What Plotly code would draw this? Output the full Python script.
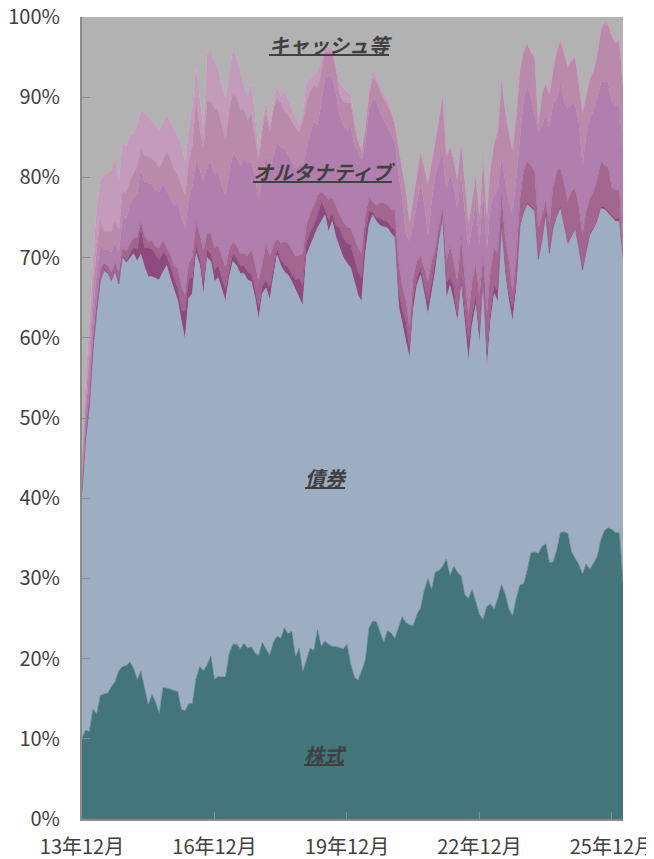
import plotly.graph_objects as go

# monthly observations 2013-12 .. 2026-03 (148 points)
months = list(range(148))
tick_pos = [0, 36, 72, 108, 144]
tick_labels = ["13年12月", "16年12月", "19年12月", "22年12月", "25年12月"]

equity = [10.1,11.1,10.9,13.7,13.1,15.4,15.6,15.7,16.5,17.1,
18.5,19.0,19.1,19.6,18.8,17.4,18.4,16.1,14.2,15.5,
14.6,13.1,16.4,16.3,16.2,16.0,15.9,13.7,13.5,14.4,
14.4,17.5,19.0,18.5,19.2,20.3,17.4,17.8,17.7,17.7,
20.6,21.8,21.8,21.2,21.9,21.3,21.5,20.7,20.4,22.0,
21.2,20.4,22.0,22.8,22.5,23.8,23.1,23.4,20.2,21.3,
18.4,19.8,21.3,21.0,23.6,21.5,22.2,21.8,21.5,21.5,
21.3,21.2,21.8,19.3,17.7,17.3,18.5,19.8,23.8,24.7,
24.6,23.3,22.0,23.5,23.2,22.5,24.0,25.2,24.5,24.2,
24.1,25.5,26.3,28.5,30.0,28.6,30.8,31.0,31.5,32.4,
30.3,31.5,30.8,30.3,28.0,27.5,28.6,27.0,25.5,24.9,
26.5,26.8,26.2,27.5,29.2,28.0,26.2,25.3,27.5,29.2,
29.3,31.0,33.2,33.3,33.1,34.0,34.3,32.0,32.0,33.5,
35.7,35.8,35.6,33.3,32.4,31.7,30.5,31.8,31.1,32.0,
32.7,34.8,36.0,36.3,36.1,35.7,35.7,29.3]

bonds = [30.4,35.9,40.1,44.3,49.9,51.6,52.7,52.3,50.5,51.1,
48.0,51.0,50.2,50.3,51.7,52.1,52.0,52.7,53.4,52.1,
52.8,54.1,51.8,52.7,51.2,50.0,48.7,48.3,46.2,50.5,
51.1,53.0,50.0,46.8,50.8,49.2,49.6,49.7,48.3,46.8,
46.9,47.7,47.2,46.8,46.1,45.9,45.5,44.3,41.8,43.5,
45.0,44.3,45.5,47.5,46.5,44.4,44.7,43.6,45.8,43.7,
45.6,50.5,50.2,51.5,50.1,53.0,53.1,51.4,53.0,51.0,
49.9,48.8,47.5,49.4,49.3,48.0,46.0,50.7,50.2,50.6,
49.9,50.7,51.8,50.2,49.8,50.0,40.0,36.3,35.0,33.2,
39.4,41.0,41.5,37.0,32.8,36.9,37.5,41.0,43.5,32.5,
36.2,33.0,31.2,36.2,34.0,29.5,32.9,37.1,33.6,41.6,
29.5,35.2,39.3,37.0,44.5,40.0,38.3,36.7,38.5,44.5,
46.2,45.6,43.0,42.4,36.4,38.0,41.0,38.3,41.5,41.5,
40.4,38.2,36.0,39.2,41.1,39.3,37.7,38.7,41.7,41.5,
41.8,41.3,40.0,39.2,38.9,38.8,38.8,40.7]

alt_1 = [0.3,0.5,0.5,0.5,0.3,0.2,0.2,0.2,0.2,0.2,
0.2,0.3,0.3,0.5,0.8,1.5,3.3,2.5,3.6,3.5,
3.0,2.5,2.5,1.3,1.5,1.5,1.6,1.5,3.6,2.5,
2.0,1.0,1.0,1.5,1.0,1.0,1.5,1.5,1.5,1.5,
1.0,1.0,1.0,1.0,1.0,1.0,1.0,1.2,1.5,1.0,
1.0,1.5,1.0,0.8,0.8,1.0,1.0,1.0,1.2,2.4,
2.5,1.7,1.7,1.5,1.6,2.5,0.8,1.5,1.0,1.5,
2.5,2.5,2.5,2.9,3.0,2.9,3.0,2.7,1.8,0.4,
0.5,0.9,0.8,0.8,0.8,1.0,2.0,2.0,2.5,1.3,
1.5,1.0,0.9,1.2,1.7,1.5,1.6,0.5,0.3,2.1,
1.0,2.0,0.8,1.0,1.5,2.5,1.5,1.0,1.5,1.0,
2.0,1.5,1.0,1.5,0.5,1.0,1.0,1.7,1.0,0.3,
0.3,0.3,0.3,0.3,0.3,0.3,0.3,0.3,0.3,0.3,
0.3,0.3,0.3,0.3,0.3,0.3,0.3,0.3,0.3,0.3,
0.3,0.3,0.3,0.3,0.3,0.3,0.3,0.1]

alt_2 = [0.5,1.0,1.5,1.5,1.5,1.5,0.8,0.8,1.0,1.0,
1.5,1.0,1.2,1.2,1.2,1.5,0.8,1.5,0.8,1.0,
1.0,1.5,1.5,1.0,1.5,1.5,2.5,3.0,2.0,2.0,
2.5,3.0,3.0,4.0,2.0,2.5,2.7,2.5,2.5,2.7,
2.5,1.5,1.5,1.5,1.5,2.0,3.0,3.0,3.3,3.0,
4.4,4.0,3.0,1.3,2.0,2.8,3.0,3.0,3.0,2.9,
4.0,2.1,2.3,2.5,2.5,1.2,1.7,2.5,2.0,2.5,
1.6,2.0,2.0,2.1,2.5,3.0,3.0,2.1,1.7,1.3,
1.5,2.0,2.2,2.1,2.2,2.5,3.5,3.0,2.7,2.5,
2.5,2.0,1.6,2.0,2.5,2.5,1.3,1.5,0.8,2.5,
4.0,3.0,4.2,5.0,4.5,3.3,4.0,4.0,4.5,2.8,
5.0,5.0,4.7,4.5,3.6,3.5,4.0,2.0,3.0,3.2,
5.0,5.1,5.0,4.7,3.9,3.0,1.4,3.5,5.0,5.5,
4.7,5.0,5.1,5.5,4.8,5.0,4.3,5.0,4.3,4.5,
5.0,5.6,5.2,5.5,3.3,3.7,3.7,0.3]

alt_3 = [1.5,2.5,3.0,3.5,3.5,3.0,1.7,2.0,2.5,2.5,
2.5,3.5,4.0,5.0,5.0,5.5,6.6,6.5,7.3,7.0,
7.0,7.0,7.0,7.1,7.0,7.5,8.3,8.5,8.4,8.0,
9.0,7.9,8.0,8.7,8.5,9.0,9.1,9.0,9.0,9.1,
9.5,11.0,11.0,11.0,12.0,11.5,11.0,11.0,10.0,10.5,
11.2,10.5,11.0,12.1,12.0,11.6,11.0,11.0,11.0,11.2,
11.0,9.5,10.0,10.5,8.7,11.0,14.6,15.5,15.0,14.0,
12.5,12.0,12.0,12.8,11.5,12.0,11.5,9.2,11.0,12.9,
13.0,11.3,10.5,9.9,9.5,8.5,11.0,11.0,8.3,10.8,
6.5,7.0,9.2,8.0,5.8,7.5,9.1,8.0,6.7,9.0,
9.0,9.5,9.0,8.0,7.5,8.4,7.0,8.0,6.5,8.0,
8.0,8.0,6.6,8.0,5.0,7.0,7.5,9.6,10.0,8.0,
9.0,9.5,8.5,7.1,12.0,11.0,11.0,12.0,10.5,9.0,
10.8,10.0,11.6,11.0,10.5,10.5,8.7,9.5,10.0,10.0,
10.0,9.9,10.5,10.5,10.8,10.5,10.5,13.3]

alt_4 = [1.0,1.5,2.0,2.5,3.0,3.0,2.2,2.2,2.5,2.8,
2.5,3.5,3.3,2.9,3.0,3.5,2.5,3.5,3.3,3.3,
3.5,3.0,3.0,4.8,5.0,4.5,3.3,4.0,4.1,4.5,
5.0,7.5,5.0,4.0,8.0,7.5,8.3,8.0,7.5,6.7,
8.0,7.5,7.5,7.0,6.0,5.5,6.0,5.0,5.0,6.0,
5.4,5.0,6.0,5.4,5.5,4.6,5.0,5.0,5.0,4.2,
5.5,5.8,5.3,4.5,4.6,4.0,3.3,3.0,3.0,3.0,
2.5,3.0,3.5,2.8,2.5,1.2,1.1,1.5,2.0,2.5,
2.5,2.5,2.5,2.6,2.5,2.0,3.0,3.5,5.3,2.2,
3.3,3.8,3.5,4.5,6.3,4.7,4.3,5.2,7.2,4.0,
3.2,3.2,3.6,3.7,4.2,3.0,3.2,2.9,3.4,4.2,
4.0,4.7,6.4,7.2,9.3,8.7,8.4,8.0,7.7,8.1,
5.9,5.1,5.5,7.2,0.9,4.1,3.6,4.1,3.9,5.9,
5.1,5.9,5.1,5.2,5.8,4.9,6.4,4.9,4.8,4.9,
5.4,6.4,7.2,7.1,8.1,7.7,8.0,7.6]

alt_5 = [1.5,2.5,4.0,4.0,5.0,5.0,7.1,7.5,7.8,7.8,
6.3,6.2,5.9,5.8,5.0,5.0,4.8,5.2,5.0,4.6,
4.6,4.8,4.6,4.6,4.6,5.0,5.0,5.0,4.2,4.1,
5.0,4.0,4.0,2.5,6.0,6.3,5.8,5.1,5.0,5.4,
4.5,5.5,5.0,4.7,3.0,2.8,3.9,2.8,1.2,1.0,
1.3,0.8,0.5,1.8,0.7,2.7,2.0,1.7,1.6,0.8,
1.0,2.5,1.5,1.3,2.1,1.6,0.8,0.6,0.6,0.5,
1.6,1.7,1.4,1.0,1.0,0.5,0.5,0.5,0.5,1.0,
0.5,0.8,0.7,0.8,0.5,0.5,0.5,0.5,0.5,0.3,
0.2,0.2,0.4,0.3,0.4,0.3,0.3,0.3,0.3,0.3,
0.3,0.3,0.3,0.3,0.3,0.3,0.3,0.3,0.3,0.3,
0.3,0.3,0.3,0.3,0.3,0.3,0.3,0.3,0.3,0.3,
0.3,0.3,0.3,0.3,0.3,0.3,0.3,0.3,0.3,0.3,
0.3,0.3,0.3,0.3,0.3,0.3,0.3,0.3,0.3,0.3,
0.3,0.3,0.3,0.3,0.3,0.3,0.3,0.2]

cash = [54.7,45.0,38.0,30.0,23.7,20.3,19.7,19.3,19.0,17.5,
20.5,15.5,16.0,14.7,14.5,13.5,11.6,12.0,12.4,13.0,
13.5,14.0,13.2,12.2,13.0,14.0,14.7,16.0,18.0,14.0,
11.0,6.1,10.0,14.0,4.5,4.2,5.6,6.4,8.5,10.1,
7.0,4.0,5.0,6.8,8.5,10.0,8.1,12.0,16.8,13.0,
10.5,13.5,11.0,8.3,10.0,9.1,10.2,11.3,12.2,13.5,
12.0,8.1,7.7,7.2,6.8,5.2,3.5,3.7,3.9,6.0,
8.1,8.8,9.3,9.7,12.5,15.1,16.4,13.5,9.0,6.6,
7.5,8.5,9.5,10.1,11.5,13.0,16.0,18.5,21.2,25.5,
22.5,19.5,16.6,18.5,20.5,18.0,15.1,12.5,9.7,17.2,
16.0,17.5,20.1,15.5,20.0,25.5,22.5,19.7,24.7,17.2,
24.7,18.5,15.5,14.0,7.6,11.5,14.3,16.4,12.0,6.4,
4.0,3.1,4.2,4.7,13.1,9.3,8.1,9.5,6.5,4.0,
2.7,4.5,6.0,5.2,4.8,8.0,11.8,9.5,7.5,6.5,
4.5,1.4,0.5,0.8,2.2,3.0,2.7,8.5]

series = [
    ("株式", equity, "#44757A"),
    ("債券", bonds, "#9DADC2"),
    ("オルタナティブ1", alt_1, "#8D4A7E"),
    ("オルタナティブ2", alt_2, "#A2668F"),
    ("オルタナティブ3", alt_3, "#B07FAE"),
    ("オルタナティブ4", alt_4, "#B98AAA"),
    ("オルタナティブ5", alt_5, "#C39CBC"),
    ("キャッシュ等", cash, "#B2B2B2"),
]

fig = go.Figure()
for name, vals, col in series:
    fig.add_trace(go.Scatter(
        x=months, y=vals, name=name, mode="lines",
        stackgroup="one", line=dict(width=0.6, color=col),
        fillcolor=col, showlegend=False, hoverinfo="skip"))

FONT = "Noto Sans CJK JP"
axis_col = "#8C8C8C"
text_col = "#404040"

# page body has an 8px margin, so the figure is sized to fit the 654x859 window
fig.update_layout(
    width=646, height=851,
    margin=dict(l=74, r=31, t=9, b=40),
    paper_bgcolor="white", plot_bgcolor="white",
    font=dict(family=FONT, size=20, color=text_col),
    xaxis=dict(range=[0, 147], tickmode="array", tickvals=tick_pos,
               ticktext=tick_labels, ticks="inside", ticklen=7,
               tickcolor=axis_col, showline=True, linecolor=axis_col,
               linewidth=2, showgrid=False, zeroline=False,
               automargin=False, ticklabeloverflow="allow",
               ticklabelstandoff=9,
               tickfont=dict(family=FONT, size=20, color=text_col)),
    yaxis=dict(range=[0, 100], tickmode="array",
               tickvals=list(range(0, 101, 10)),
               ticktext=[f"{v}%" for v in range(0, 101, 10)],
               ticks="inside", ticklen=8, tickcolor=axis_col,
               showline=True, linecolor=axis_col, linewidth=2,
               showgrid=False, zeroline=False, ticklabelstandoff=16,
               automargin=False, ticklabeloverflow="allow",
               tickfont=dict(family=FONT, size=20, color=text_col)),
)

labels = [("キャッシュ等", 0.460, 0.966), ("オルタナティブ", 0.449, 0.807),
          ("債券", 0.451, 0.426), ("株式", 0.451, 0.080)]
for txt, xp, yp in labels:
    fig.add_annotation(text=f"<b><i><u>{txt}</u></i></b>", x=xp, y=yp,
                       xref="paper", yref="paper", showarrow=False,
                       xanchor="center", yanchor="middle",
                       font=dict(family=FONT, size=20, color=text_col))

fig.write_html("out.html")
